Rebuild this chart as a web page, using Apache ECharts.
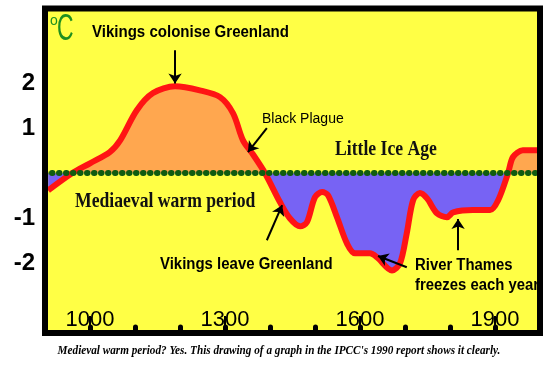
<!DOCTYPE html>
<html>
<head>
<meta charset="utf-8">
<script src="https://cdn.jsdelivr.net/npm/echarts@6/dist/echarts.min.js"></script>
<style>
html,body{margin:0;padding:0;background:#fff;}
#chart{width:548px;height:370px;}
</style>
</head>
<body>
<div id="chart"></div>
<script>
// 温度曲线：年份与距平 (°C)
var years = [907, 960, 1000, 1044, 1067, 1104, 1140, 1189, 1244, 1289, 1318, 1340, 1362, 1389,
             1422, 1444, 1467, 1482, 1500, 1516, 1529, 1549, 1571, 1589, 1622, 1638, 1671, 1689,
             1704, 1718, 1733, 1749, 1771, 1793, 1807, 1851, 1889, 1907, 1929, 1940, 1962, 2000];
var temps = [-0.38, 0, 0.22, 0.47, 0.73, 1.40, 1.78, 1.93, 1.84, 1.69, 1.33, 0.73, 0.42, 0,
             -0.64, -1.0, -1.18, -1.09, -0.53, -0.42, -0.49, -0.98, -1.56, -1.78, -1.78, -1.87, -2.16, -2.0,
             -1.33, -0.60, -0.44, -0.56, -0.89, -0.98, -0.87, -0.82, -0.82, -0.60, 0, 0.36, 0.51, 0.51];
var yearTicks = [1000, 1100, 1200, 1300, 1400, 1500, 1600, 1700, 1800, 1900];
var yearLabels = [1000, 1300, 1600, 1900];
var tempLabels = [2, 1, -1, -2];

// 注释箭头 [起点, 终点]
var arrows = [
  [[1189, 2.73], [1189, 1.99]],
  [[1393, 1.00], [1351, 0.47]],
  [[1393, -1.49], [1427, -0.71]],
  [[1704, -2.09], [1640, -1.84]],
  [[1818, -1.71], [1818, -1.02]]
];

var curve = years.map(function (y, i) { return [y, temps[i]]; });

var chart = echarts.init(document.getElementById('chart'));

var sans = "'Liberation Sans', Arial, sans-serif";
var serif = "'Liberation Serif', 'Times New Roman', serif";

var yMin = -3.55, yMax = 3.67;
var gridTop = 8, gridBottom = 37;
var zeroAt = yMax / (yMax - yMin);

option = {
  backgroundColor: '#fff',
  animation: false,
  grid: {
    left: 45, right: 8, top: gridTop, bottom: gridBottom,
    show: true, backgroundColor: '#ffff45', borderWidth: 0
  },
  xAxis: [
    {
      type: 'value', min: 900, max: 2000,
      axisLine: {show: false, onZero: false},
      splitLine: {show: false},
      axisTick: {inside: true, length: 6, customValues: yearTicks,
        lineStyle: {color: '#000', width: 5, cap: 'round'}},
      axisLabel: {inside: true, margin: 2, customValues: yearLabels,
        formatter: function (v) { return String(v); },
        fontSize: 22, fontFamily: sans, color: '#000'}
    },
    {
      type: 'value', min: 900, max: 2000, position: 'bottom',
      axisLine: {show: false, onZero: false},
      splitLine: {show: false},
      axisTick: {inside: true, length: 17, customValues: yearLabels,
        lineStyle: {color: '#000', width: 2}},
      axisLabel: {show: false}
    }
  ],
  yAxis: {
    type: 'value', min: yMin, max: yMax,
    axisLine: {show: false},
    axisTick: {show: false},
    splitLine: {show: false},
    axisLabel: {customValues: tempLabels, margin: 10,
      fontSize: 24, fontWeight: 'bold', fontFamily: sans, color: '#000'}
  },
  series: [
    {
      name: 'fill', type: 'line', data: curve, smooth: 0.3, showSymbol: false,
      lineStyle: {width: 0}, z: 2,
      areaStyle: {
        opacity: 1,
        color: {
          type: 'linear', global: true, x: 0, y: gridTop, x2: 0, y2: 370 - gridBottom,
          colorStops: [
            {offset: 0, color: '#ffa74f'}, {offset: zeroAt, color: '#ffa74f'},
            {offset: zeroAt, color: '#7763f4'}, {offset: 1, color: '#7763f4'}
          ]
        }
      },
      markLine: {
        silent: true, symbol: 'none', label: {show: false},
        lineStyle: {color: '#105c10', width: 6, type: [0.5, 6.5], cap: 'round'},
        data: [{yAxis: 0}]
      }
    },
    {
      name: 'temp', type: 'line', data: curve, smooth: 0.3, showSymbol: false,
      lineStyle: {color: '#ff1414', width: 6}, z: 3,
      markLine: {
        silent: true, symbol: ['none', 'arrow'], symbolSize: 10,
        label: {show: false},
        lineStyle: {color: '#000', width: 2, type: 'solid'},
        data: arrows.map(function (a) { return [{coord: a[0]}, {coord: a[1]}]; })
      }
    }
  ],
  graphic: [
    {type: 'text', x: 50, y: 21, z: 50, style: {text: 'o', fontSize: 14, fontFamily: sans, fill: '#1f8f1f', verticalAlign: 'middle'}},
    {type: 'text', x: 57, y: 30, scaleX: 0.62, z: 50, style: {text: 'C', fontSize: 37, fontFamily: sans, fill: '#1f8f1f', verticalAlign: 'middle'}},
    {type: 'text', x: 92, y: 33, scaleX: 0.94, z: 50, style: {text: 'Vikings colonise Greenland', fontSize: 16, fontWeight: 'bold', fontFamily: sans, fill: '#000', verticalAlign: 'middle'}},
    {type: 'text', x: 262, y: 119, z: 50, style: {text: 'Black Plague', fontSize: 14, fontFamily: sans, fill: '#000', verticalAlign: 'middle'}},
    {type: 'text', x: 335, y: 150, scaleX: 0.84, z: 50, style: {text: 'Little Ice Age', fontSize: 21, fontWeight: 'bold', fontFamily: serif, fill: '#111', verticalAlign: 'middle'}},
    {type: 'text', x: 75, y: 202, scaleX: 0.84, z: 50, style: {text: 'Mediaeval warm period', fontSize: 21, fontWeight: 'bold', fontFamily: serif, fill: '#111', verticalAlign: 'middle'}},
    {type: 'text', x: 160, y: 265, scaleX: 0.935, z: 50, style: {text: 'Vikings leave Greenland', fontSize: 16, fontWeight: 'bold', fontFamily: sans, fill: '#000', verticalAlign: 'middle'}},
    {type: 'text', x: 415, y: 266, scaleX: 0.93, z: 50, style: {text: 'River Thames', fontSize: 16, fontWeight: 'bold', fontFamily: sans, fill: '#000', verticalAlign: 'middle'}},
    {type: 'text', x: 415, y: 286, scaleX: 0.93, z: 50, style: {text: 'freezes each year', fontSize: 16, fontWeight: 'bold', fontFamily: sans, fill: '#000', verticalAlign: 'middle'}},
    {type: 'text', x: 279, y: 351, scaleX: 0.935, z: 50, style: {text: "Medieval warm period? Yes. This drawing of a graph in the IPCC's 1990 report shows it clearly.", fontSize: 12, fontWeight: 'bold', fontStyle: 'italic', fontFamily: serif, fill: '#000', align: 'center', verticalAlign: 'middle'}},
    {type: 'rect', z: 100, shape: {x: 45, y: 8.5, width: 495, height: 324.5}, style: {fill: 'transparent', stroke: '#000', lineWidth: 6}}
  ]
};

chart.setOption(option);

window.addEventListener('resize', function () {
  chart.resize();
});
</script>
</body>
</html>
